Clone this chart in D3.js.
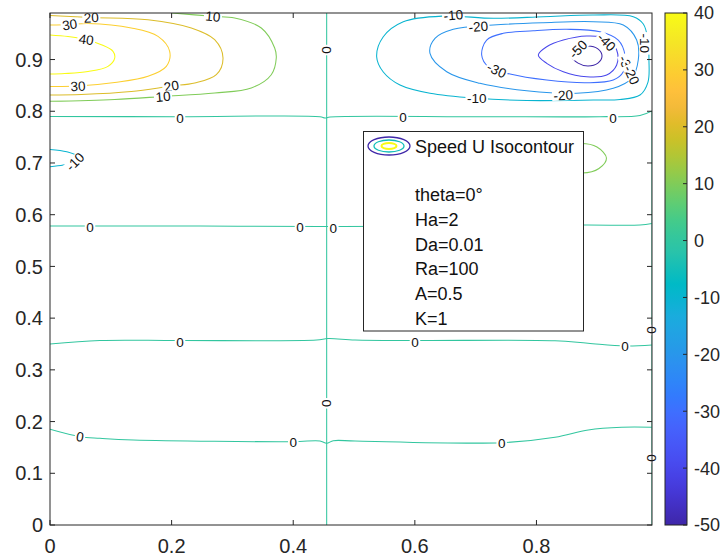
<!DOCTYPE html>
<html>
<head>
<meta charset="utf-8">
<script src="https://cdn.jsdelivr.net/npm/d3@7"></script>
<style>
  html, body { margin: 0; padding: 0; background: #fff; }
  svg { display: block; font-family: "Liberation Sans", Arial, Helvetica, sans-serif; }
</style>
</head>
<body>
<svg id="chart" width="722" height="558"></svg>
<script>
// ---- axis ticks and colour range ----
const xTicks = [0, 0.2, 0.4, 0.6, 0.8];
const yTicks = [0, 0.1, 0.2, 0.3, 0.4, 0.5, 0.6, 0.7, 0.8, 0.9];
const cbarTicks = [-50, -40, -30, -20, -10, 0, 10, 20, 30, 40];
const levelRange = [-50, 40];

// ---- isocontours of the horizontal speed U, as [x, y] points ----
// positive cell, top left (open at the left wall)
const u40 = [[0,0.9474],[0.0296,0.9445],[0.0592,0.9387],[0.0844,0.9287],[0.1036,0.9159],[0.1064,0.9029],[0.0954,0.8869],[0.0625,0.8768],[0.0242,0.8729],[0,0.8720]];
const u30 = [[0,0.9667],[0.0324,0.9677],[0.0625,0.9696],[0.1337,0.9610],[0.1776,0.9449],[0.1968,0.9159],[0.1913,0.8869],[0.1612,0.8676],[0.1064,0.8556],[0.0460,0.8488],[0,0.8479]];
const u20 = [[0,0.9851],[0.0679,0.9814],[0.1612,0.9770],[0.2324,0.9610],[0.2708,0.9383],[0.2845,0.9029],[0.2735,0.8707],[0.2380,0.8546],[0.1995,0.8488],[0.1337,0.8382],[0.0515,0.8324],[0,0.8314]];
const u10 = [[0.2006,0.9899],[0.2680,0.9836],[0.3037,0.9803],[0.3475,0.9610],[0.3695,0.9223],[0.3721,0.9029],[0.3639,0.8707],[0.3310,0.8450],[0.2708,0.8353],[0.1858,0.8286],[0.1064,0.8228],[0,0.8192]];
// negative cell, top right (closed loops)
const uM50 = [[0.9078,0.9068],[0.9010,0.9205],[0.8847,0.9261],[0.8684,0.9205],[0.8584,0.9049],[0.8684,0.8931],[0.8847,0.8875],[0.9010,0.8931]];
const uM40 = [[0.8030,0.9087],[0.8168,0.9248],[0.8441,0.9377],[0.8826,0.9455],[0.9155,0.9410],[0.9319,0.9184],[0.9319,0.8894],[0.9155,0.8701],[0.8826,0.8668],[0.8441,0.8765],[0.8168,0.8927]];
const uM30 = [[0.7099,0.9087],[0.7181,0.9377],[0.7454,0.9507],[0.7948,0.9557],[0.8497,0.9584],[0.9045,0.9538],[0.9345,0.9377],[0.9456,0.9087],[0.9428,0.8765],[0.9263,0.8604],[0.8826,0.8552],[0.8168,0.8604],[0.7565,0.8720],[0.7208,0.8861]];
const uM20 = [[0.6249,0.9120],[0.6331,0.9410],[0.6632,0.9584],[0.7290,0.9667],[0.8112,0.9712],[0.8934,0.9731],[0.9428,0.9667],[0.9648,0.9377],[0.9674,0.8991],[0.9566,0.8637],[0.9263,0.8444],[0.8661,0.8347],[0.7839,0.8397],[0.7071,0.8540],[0.6524,0.8765]];
const uM10 = [[0.5372,0.9055],[0.5481,0.9441],[0.5810,0.9731],[0.6468,0.9841],[0.7290,0.9797],[0.8112,0.9828],[0.8934,0.9861],[0.9592,0.9828],[0.9757,0.9687],[0.9834,0.9377],[0.9850,0.8991],[0.9834,0.8565],[0.9703,0.8314],[0.9374,0.8227],[0.8934,0.8217],[0.7839,0.8208],[0.7017,0.8250],[0.6249,0.8347],[0.5756,0.8507],[0.5481,0.8759]];
// small cells
const uM10Left = [[0,0.7262],[0.0275,0.7216],[0.0465,0.7119],[0.0411,0.7022],[0.0219,0.6959],[0,0.6926]];
const u10Right = [[0.8305,0.7096],[0.8419,0.7289],[0.8716,0.7376],[0.8995,0.7309],[0.9151,0.7096],[0.9028,0.6893],[0.8749,0.6806],[0.8436,0.6883]];
// zero isolines
const u0a = [[0,0.7898],[0.2138,0.7895],[0.4440,0.7895],[0.4522,0.7870],[0.4605,0.7889],[0.7000,0.7895],[0.9045,0.7895],[0.9703,0.7918],[0.99,0.8005]];
const u0b = [[0,0.5781],[0.2467,0.5781],[0.4440,0.5771],[0.4770,0.5771],[0.6578,0.5781],[0.8798,0.5800],[0.9703,0.5800],[0.99,0.5829]];
const u0c = [[0,0.3500],[0.0822,0.3567],[0.2138,0.3567],[0.4386,0.3577],[0.4572,0.3606],[0.5016,0.3577],[0.6002,0.3567],[0.8305,0.3563],[0.8847,0.3513],[0.9456,0.3461],[0.99,0.3480]];
const u0d = [[0,0.1850],[0.0493,0.1707],[0.0822,0.1676],[0.1370,0.1643],[0.4001,0.1611],[0.4440,0.1624],[0.4550,0.1580],[0.4659,0.1630],[0.5016,0.1624],[0.7428,0.1591],[0.8305,0.1696],[0.8852,0.1837],[0.9401,0.1889],[0.99,0.1889]];
const u0v = [[0.455,0.99],[0.455,0.79],[0.455,0.578],[0.455,0.357],[0.455,0.162],[0.455,0]];
const u0wall = [[0.99,0],[0.99,0.40],[0.99,0.80]];

// contour labels: [text, x, y, rotation in degrees]
const contourLabels = [
  ["20",0.0679,0.9814,-3],["30",0.0324,0.9677,-8],["40",0.0597,0.9387,8],["10",0.2680,0.9836,5],
  ["30",0.0460,0.8488,-3],["20",0.1995,0.8488,-10],["10",0.1858,0.8286,-5],
  ["-10",0.6632,0.9861,-5],["-20",0.7043,0.9639,-5],["-30",0.7346,0.8797,25],
  ["-50",0.8683,0.9203,-45],["-40",0.9155,0.9339,45],["-30",0.9484,0.8894,65],["-20",0.9566,0.8701,65],
  ["-10",0.9785,0.9313,90],["-20",0.8441,0.8314,-3],["-10",0.7017,0.8250,0],["-10",0.0411,0.7025,-45],
  ["0",0.2138,0.7863,0],["0",0.5805,0.7895,0],["0",0.9258,0.7863,0],
  ["0",0.0658,0.5768,0],["0",0.4111,0.5756,0],["0",0.4659,0.5737,0],
  ["0",0.2138,0.3544,0],["0",0.6002,0.3544,0],["0",0.9456,0.3455,0],
  ["0",0.0493,0.1707,10],["0",0.4001,0.1611,0],["0",0.7428,0.1591,0],
  ["0",0.455,0.9184,90],["0",0.455,0.2353,90],["0",0.99,0.3770,90],["0",0.99,0.1295,90]
];

// legend text
const legendTitle = "Speed U Isocontour";
const legendParams = ["theta=0°", "Ha=2", "Da=0.01", "Ra=100", "A=0.5", "K=1"];

// parula colormap, every 8th entry of the 256-colour table (last entry closes it)
const parulaStops = [
[0.2422,0.1504,0.6603],[0.2576,0.1814,0.7501],[0.2704,0.2138,0.8346],[0.2781,0.2543,0.8973],
[0.2813,0.2985,0.9397],[0.2798,0.3421,0.9702],[0.2710,0.3860,0.9898],[0.2473,0.4319,0.9983],
[0.2006,0.4803,0.9906],[0.1795,0.5244,0.9709],[0.1716,0.5655,0.9393],[0.1475,0.6043,0.9113],
[0.1288,0.6408,0.8910],[0.1009,0.6750,0.8653],[0.0433,0.7039,0.8242],[0.0018,0.7275,0.7752],
[0.0770,0.7468,0.7224],[0.1609,0.7635,0.6671],[0.2061,0.7808,0.6065],[0.2695,0.7951,0.5360],
[0.3671,0.8021,0.4563],[0.4753,0.8011,0.3691],[0.5886,0.7913,0.2833],[0.6963,0.7750,0.2075],
[0.7945,0.7554,0.1570],[0.8804,0.7372,0.1650],[0.9523,0.7284,0.2237],[0.9971,0.7513,0.2309],
[0.9938,0.7974,0.1974],[0.9748,0.8467,0.1726],[0.9601,0.8963,0.1507],[0.9642,0.9437,0.1216],
[0.9769,0.9839,0.0805]
];
const parulaPos = parulaStops.map((d, i) => Math.min(i * 8, 255) / 255);

// ---- assemble isolines ----
const isolines = [
  {level: 40, pts: u40, closed: false}, {level: 30, pts: u30, closed: false},
  {level: 20, pts: u20, closed: false}, {level: 10, pts: u10, closed: false},
  {level: -50, pts: uM50, closed: true}, {level: -40, pts: uM40, closed: true},
  {level: -30, pts: uM30, closed: true}, {level: -20, pts: uM20, closed: true},
  {level: -10, pts: uM10, closed: true}, {level: -10, pts: uM10Left, closed: false},
  {level: 10, pts: u10Right, closed: true},
  {level: 0, pts: u0a, closed: false}, {level: 0, pts: u0b, closed: false},
  {level: 0, pts: u0c, closed: false}, {level: 0, pts: u0d, closed: false},
  {level: 0, pts: u0v, closed: false}, {level: 0, pts: u0wall, closed: false}
];

const svg = d3.select("#chart");
const AX = {left: 50, right: 652, top: 13, bottom: 525};
const axisColor = "#262626";

const x = d3.scaleLinear().domain([0, 0.99]).range([AX.left, AX.right]);
const y = d3.scaleLinear().domain([0, 0.99]).range([AX.bottom, AX.top]);
const cy = d3.scaleLinear().domain(levelRange).range([AX.bottom, AX.top]);

const toCss = c => d3.rgb(c[0] * 255, c[1] * 255, c[2] * 255).formatHex();
const parulaScale = d3.scaleLinear().domain(parulaPos).range(parulaStops.map(toCss))
  .interpolate(d3.interpolateRgb).clamp(true);
const levelColor = v => parulaScale((v - levelRange[0]) / (levelRange[1] - levelRange[0]));

// ---- contour lines ----
const defs = svg.append("defs");
defs.append("clipPath").attr("id", "plotClip")
  .append("rect").attr("x", AX.left).attr("y", AX.top)
  .attr("width", AX.right - AX.left).attr("height", AX.bottom - AX.top);

const plot = svg.append("g").attr("clip-path", "url(#plotClip)");
const openLine = d3.line().x(d => x(d[0])).y(d => y(d[1])).curve(d3.curveCatmullRom.alpha(0.5));
const closedLine = d3.line().x(d => x(d[0])).y(d => y(d[1])).curve(d3.curveCatmullRomClosed.alpha(0.5));

plot.selectAll("path.iso").data(isolines).join("path")
  .attr("class", "iso")
  .attr("d", d => (d.closed ? closedLine : openLine)(d.pts))
  .attr("fill", "none")
  .attr("stroke", d => levelColor(d.level))
  .attr("stroke-width", 1.05);

// ---- contour labels with a white gap in the line ----
const labG = svg.append("g");
contourLabels.forEach(([txt, lx, ly, ang]) => {
  const g = labG.append("g").attr("transform", `translate(${x(lx)},${y(ly)}) rotate(${ang})`);
  const t = g.append("text").attr("text-anchor", "middle").attr("dy", "0.36em")
    .attr("font-size", 13.5).attr("fill", "#111").text(txt);
  const bb = t.node().getBBox();
  g.insert("rect", "text").attr("x", bb.x - 1.5).attr("y", -5.5)
    .attr("width", bb.width + 3).attr("height", 11).attr("fill", "#fff");
});

// ---- legend ----
const leg = svg.append("g");
leg.append("rect").attr("x", 363.5).attr("y", 131.5).attr("width", 220).attr("height", 199.5)
  .attr("fill", "#fff").attr("stroke", axisColor).attr("stroke-width", 1);
const iconLevels = [-50, -5, 40];
const iconR = [[21, 9], [15, 6], [7.5, 3]];
iconLevels.forEach((lv, i) => {
  leg.append("ellipse").attr("cx", 389).attr("cy", 146).attr("rx", iconR[i][0]).attr("ry", iconR[i][1])
    .attr("fill", "none").attr("stroke", levelColor(lv)).attr("stroke-width", i === 2 ? 2 : 1.3);
});
leg.append("text").attr("x", 415).attr("y", 153).attr("font-size", 18).attr("fill", "#111").text(legendTitle);
leg.selectAll("text.param").data(legendParams).join("text")
  .attr("class", "param").attr("x", 415).attr("y", (d, i) => 201 + i * 24.8)
  .attr("font-size", 18).attr("fill", "#111").text(d => d);

// ---- axes box and ticks ----
const axG = svg.append("g");
axG.append("rect").attr("x", AX.left).attr("y", AX.top)
  .attr("width", AX.right - AX.left).attr("height", AX.bottom - AX.top)
  .attr("fill", "none").attr("stroke", axisColor).attr("stroke-width", 1);
const tickLen = 5;
xTicks.forEach(v => {
  axG.append("line").attr("x1", x(v)).attr("x2", x(v)).attr("y1", AX.bottom).attr("y2", AX.bottom - tickLen).attr("stroke", axisColor);
  axG.append("line").attr("x1", x(v)).attr("x2", x(v)).attr("y1", AX.top).attr("y2", AX.top + tickLen).attr("stroke", axisColor);
  axG.append("text").attr("x", x(v)).attr("y", 553).attr("text-anchor", "middle")
    .attr("font-size", 20).attr("fill", axisColor).text(d3.format("~g")(v));
});
yTicks.forEach(v => {
  axG.append("line").attr("x1", AX.left).attr("x2", AX.left + tickLen).attr("y1", y(v)).attr("y2", y(v)).attr("stroke", axisColor);
  axG.append("line").attr("x1", AX.right).attr("x2", AX.right - tickLen).attr("y1", y(v)).attr("y2", y(v)).attr("stroke", axisColor);
  axG.append("text").attr("x", 43).attr("y", y(v) + 7.2).attr("text-anchor", "end")
    .attr("font-size", 20).attr("fill", axisColor).text(d3.format("~g")(v));
});

// ---- colourbar ----
const CB = {left: 665, right: 687};
const grad = defs.append("linearGradient").attr("id", "cbarGrad")
  .attr("x1", 0).attr("y1", 1).attr("x2", 0).attr("y2", 0);
grad.selectAll("stop").data(parulaStops).join("stop")
  .attr("offset", (d, i) => parulaPos[i])
  .attr("stop-color", d => toCss(d));
const cbG = svg.append("g");
cbG.append("rect").attr("x", CB.left).attr("y", cy(levelRange[1])).attr("width", CB.right - CB.left)
  .attr("height", cy(levelRange[0]) - cy(levelRange[1])).attr("fill", "url(#cbarGrad)")
  .attr("stroke", axisColor).attr("stroke-width", 1);
cbarTicks.forEach(v => {
  cbG.append("line").attr("x1", CB.right).attr("x2", CB.right - 4).attr("y1", cy(v)).attr("y2", cy(v)).attr("stroke", axisColor);
  cbG.append("text").attr("x", 694).attr("y", cy(v) + 6.4).attr("font-size", 18)
    .attr("fill", axisColor).text(String(v));
});
</script>
</body>
</html>
